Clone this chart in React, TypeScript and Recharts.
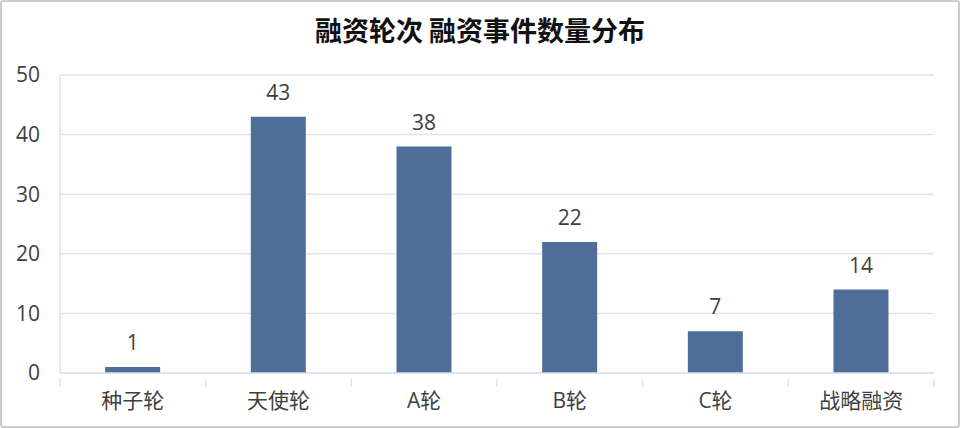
import {BarChart, Bar, XAxis, YAxis, CartesianGrid, LabelList} from 'recharts';

const rounds = ['种子轮', '天使轮', 'A轮', 'B轮', 'C轮', '战略融资'];
const counts = [1, 43, 38, 22, 7, 14];
const yTicks = [0, 10, 20, 30, 40, 50];

const data = rounds.map((round, i) => ({round, count: counts[i]}));

const font = '"Open Sans", "Noto Sans CJK SC", sans-serif';
const lineColor = '#dbe2ec';
const textColor = '#404040';
const plotLeft = 60;
const plotRight = 934;
const band = (plotRight - plotLeft) / rounds.length;

const CategoryTick = (props: any) => {
  const {x, y, payload, index} = props;
  const left = x - band / 2;
  return (
    <g>
      <line x1={left} y1={y} x2={left} y2={y + 8} stroke={lineColor} strokeWidth={1.5} />
      {index === rounds.length - 1 && (
        <line x1={left + band} y1={y} x2={left + band} y2={y + 8} stroke={lineColor} strokeWidth={1.5} />
      )}
      <text x={x} y={y + 29} textAnchor="middle" fill={textColor} fontSize={21} fontFamily={font}>
        {payload.value}
      </text>
    </g>
  );
};

export default function App() {
  return (
    <div
      style={{
        position: 'absolute',
        left: 0,
        top: 0,
        width: 960,
        height: 428,
        background: '#fff',
        boxSizing: 'border-box',
        border: '2px solid #cccccc',
        borderRadius: 3,
        overflow: 'hidden',
      }}
    >
      <div
        style={{
          position: 'absolute',
          top: 10,
          left: 0,
          width: '100%',
          textAlign: 'center',
          fontFamily: '"Noto Sans CJK SC", sans-serif',
          fontWeight: 700,
          fontSize: 27,
          lineHeight: '36px',
          color: '#111',
        }}
      >
        融资轮次 融资事件数量分布
      </div>
      <div style={{position: 'absolute', left: -2, top: -2}}>
        <BarChart
          width={960}
          height={428}
          data={data}
          margin={{top: 75, right: 960 - plotRight, bottom: 0, left: 0}}
          barCategoryGap="31%"
        >
          <CartesianGrid vertical={false} stroke={lineColor} strokeWidth={1.5} />
          <XAxis
            dataKey="round"
            axisLine={{stroke: lineColor, strokeWidth: 1.5}}
            tickLine={false}
            interval={0}
            tick={<CategoryTick />}
            tickMargin={0}
            height={55}
          />
          <YAxis
            width={plotLeft}
            domain={[0, 50]}
            ticks={yTicks}
            axisLine={{stroke: lineColor, strokeWidth: 1.5}}
            tickLine={false}
            tick={{fill: textColor, fontSize: 21, fontFamily: font}}
            tickMargin={14}
          />
          <YAxis
            yAxisId="right"
            orientation="right"
            width={0}
            domain={[0, 50]}
            tick={false}
            tickLine={false}
            axisLine={{stroke: lineColor, strokeWidth: 1.5}}
          />
          <Bar dataKey="count" fill="#4e6e99" isAnimationActive={false}>
            <LabelList
              dataKey="count"
              position="top"
              offset={17}
              fill={textColor}
              fontSize={21}
              fontFamily={font}
            />
          </Bar>
        </BarChart>
      </div>
    </div>
  );
}
